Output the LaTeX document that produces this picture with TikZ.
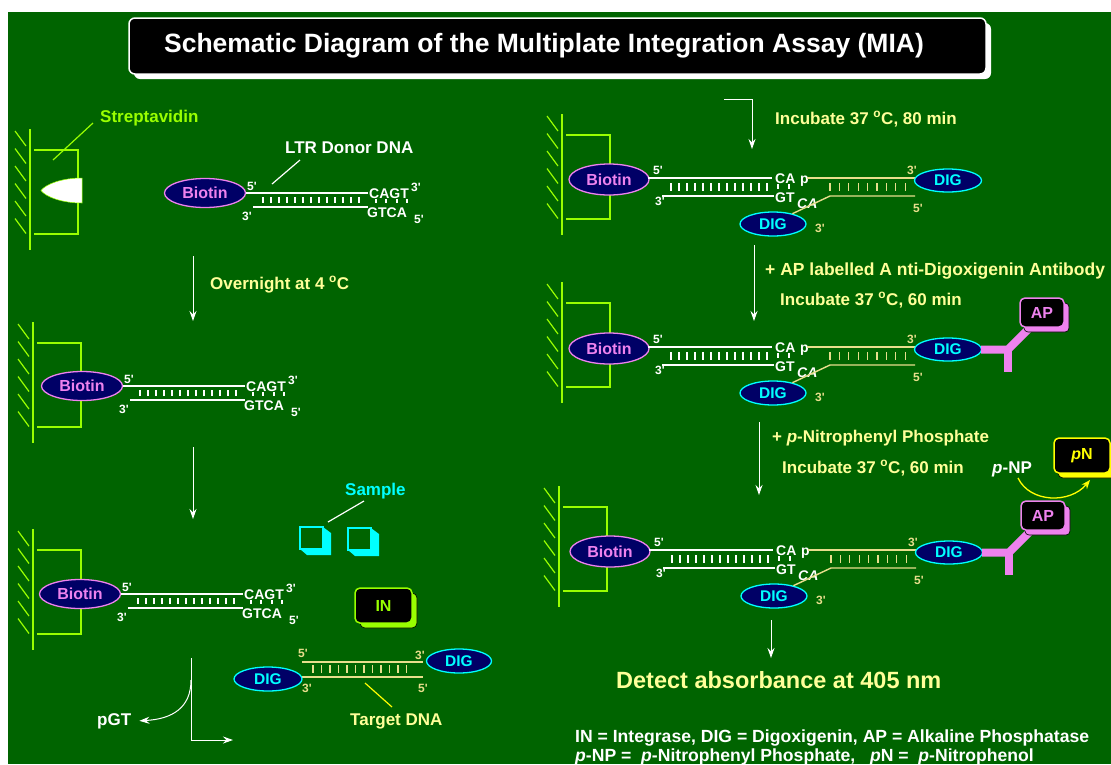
\documentclass[tikz,border=0pt]{standalone}
\usepackage{fontspec}
\setmainfont{Liberation Sans}
\newfontfamily\arial{Liberation Sans}
\usetikzlibrary{shapes.geometric,arrows.meta}

\definecolor{bg}{RGB}{0,100,0}
\definecolor{lime}{RGB}{153,255,0}
\definecolor{paleyellow}{RGB}{255,255,153}
\definecolor{dnatan}{RGB}{232,222,140}
\definecolor{violetpink}{RGB}{238,130,238}
\definecolor{navy}{RGB}{0,0,102}
\definecolor{cyanc}{RGB}{0,255,255}
\definecolor{yel}{RGB}{255,255,0}

\tikzset{
  lbl/.style={font=\arial\bfseries\fontsize{17}{20}\selectfont, inner sep=0pt, anchor=base west},
  dnaf/.style={font=\arial\bfseries\fontsize{14}{16}\selectfont, inner sep=0pt, text=white, anchor=base west},
  dnai/.style={font=\arial\bfseries\itshape\fontsize{14}{16}\selectfont, inner sep=0pt, text=white, anchor=base west},
  endf/.style={font=\arial\bfseries\fontsize{12}{14}\selectfont, inner sep=0pt, anchor=base west},
  bio/.style={ellipse, draw=violetpink, fill=navy, line width=1.3pt, minimum width=81pt,
    minimum height=29pt, inner sep=0pt, text=violetpink, font=\arial\bfseries\fontsize{16}{18}\selectfont},
  dig/.style={ellipse, draw=cyanc, fill=navy, line width=1.3pt, minimum width=66pt,
    minimum height=24pt, inner sep=0pt, text=cyanc, font=\arial\bfseries\fontsize{15.5}{18}\selectfont},
  flow/.style={white, line width=1pt, -{Stealth[length=10pt,width=7pt]}},
  strand/.style={white, line width=1.4pt},
  tanstrand/.style={dnatan, line width=1.4pt},
  rung/.style={white, line width=1.1pt},
  tanrung/.style={dnatan, line width=1.1pt},
  abline/.style={violetpink, line width=8pt},
  tagbox/.style={rectangle, rounded corners=5pt, line width=1.5pt, fill=black, inner sep=0pt,
    font=\arial\bfseries\fontsize{16}{18}\selectfont},
  % solid-phase well: plate wall, hatching and the well bracket
  wall/.pic={
    \draw[lime, line width=1.6pt] (0,-63) -- (0,58);
    \foreach \k in {0,...,5}
      \draw[lime, line width=1.2pt] (-15,{-61+17.5*\k}) -- (-4,{-46+17.5*\k});
    \draw[lime, line width=1.4pt] (4,-42) -- (48,-42) -- (48,42) -- (4,42);
  },
  % biotinylated LTR donor duplex with its CAGT end
  ldna/.pic={
    \node[bio] (-bio) at (0,0) {Biotin};
    \draw[strand] (41,0) -- (163,0);
    \draw[strand] (48,14) -- (163,14);
    \foreach \i in {0,...,12} \draw[rung] ({58+8*\i},4) -- ({58+8*\i},10);
    \foreach \xx in {171,181,192,202} \draw[rung] (\xx,6) -- (\xx,10);
    \node[endf, text=white] (-t5) at (42,-3) {5'};
    \node[endf, text=white] (-b3) at (37,27) {3'};
    \node[dnaf] (-top) at (164,5) {CAGT};
    \node[endf, text=white] (-e3) at (206,-2) {3'};
    \node[dnaf] (-bot) at (162,24) {GTCA};
    \node[endf, text=white] (-e5) at (209,30) {5'};
  },
  % donor joined to the DIG-labelled target after strand transfer
  rdna/.pic={
    \node[bio, minimum width=80pt, minimum height=31pt] (-bio) at (0,1.5) {Biotin};
    \draw[strand] (39,0) -- (163,0);
    \draw[strand] (53,18) -- (165,18);
    \foreach \i in {0,...,12} \draw[rung] ({62+8*\i},5) -- ({62+8*\i},13);
    \foreach \xx in {169,180} \draw[rung] (\xx,6) -- (\xx,11);
    \node[endf, text=white] (-t5) at (44,-4) {5'};
    \node[endf, text=white] (-b3) at (46,27) {3'};
    \node[dnaf] (-ca) at (166,5) {CA};
    \node[dnaf] (-p) at (191,5) {p};
    \node[dnaf] (-gt) at (166,24) {GT};
    \node[dnai] (-cat) at (188,30) {CA};
    \draw[tanstrand] (198,0) -- (306,0);
    \foreach \i in {0,...,8} \draw[tanrung] ({221+9.4*\i},5) -- ({221+9.4*\i},13);
    \node[dig, minimum width=67pt, minimum height=23pt] (-digR) at (339,2.5) {DIG};
    \node[dig] (-digL) at (164,46) {DIG};
    \draw[tanstrand] (-digL.28) -- (221,18) -- (306,18);
    \node[endf, text=dnatan] (-r3) at (298,-4) {3'};
    \node[endf, text=dnatan] (-r5) at (304,34) {5'};
    \node[endf, text=dnatan] (-l3) at (206,54) {3'};
  },
  % anti-DIG antibody carrying alkaline phosphatase
  abody/.pic={
    \draw[abline] (33,0) -- (60,0) -- (81,-21);
    \draw[abline] (60,0) -- (60,22);
    \fill[violetpink, rounded corners=4pt, draw=black, line width=0.6pt] (76,-46.5) rectangle (121,-17.5);
    \node[tagbox, draw=violetpink, text=violetpink, minimum width=44pt, minimum height=29pt] (-ap) at (94,-37) {AP};
  },
  % sample tube drawn as an extruded square
  cube/.pic={
    \fill[cyanc] (23,0) -- (31,6) -- (31,28) -- (7,28) -- (0,22) -- (23,22) -- cycle;
    \draw[cyanc, line width=1.2pt] (0,0) rectangle (23,22);
  }
}

\begin{document}
\begin{tikzpicture}[x=1pt, y=-1pt]
\fill[white] (0,0) rectangle (1111,764);
\fill[bg] (8,12) rectangle (1111,764);
\useasboundingbox (0,0) rectangle (1111,764);

% ---------- title ----------
\fill[white, rounded corners=6pt] (134,23) rectangle (991,79);
\node[draw=white, fill=black, line width=1.5pt, rounded corners=6pt, minimum width=857pt,
  minimum height=56pt, inner sep=0pt] (titlebox) at (557.5,46) {};
\node[text=white, inner sep=0pt, font=\arial\bfseries\fontsize{26.5}{30}\selectfont]
  (title) at (544,46) {Schematic Diagram of the Multiplate Integration Assay (MIA)};

% ---------- left column: step 1 ----------
\pic (w1) at (30,192) {wall};
\path[fill=white, draw=lime, line width=0.5pt] (82,178) .. controls (62,178) and (46,184) .. (41,190.5)
  .. controls (46,197) and (62,203) .. (82,203) -- cycle;
\node[lbl, text=lime] (strep) at (100,122) {Streptavidin};
\coordinate (strepA) at (53,160);
\coordinate (strepB) at (93,123);
\draw[lime, line width=1.2pt] (strepA) -- (strepB);

\pic (d1) at (205,193) {ldna};
\node[lbl, text=white] (ltr) at (285,153) {LTR Donor DNA};
\coordinate (ltrA) at (272,184);
\coordinate (ltrB) at (300,160);
\draw[white, line width=1.2pt] (ltrA) -- (ltrB);

\coordinate (l1s) at (193,256);
\coordinate (l1e) at (193,321);
\draw[flow] (l1s) -- (l1e);
\node[lbl, text=paleyellow] (over) at (210,289) {Overnight at 4 \textsuperscript{o}C};

% ---------- left column: step 2 ----------
\pic (w2) at (33,385) {wall};
\pic (d2) at (82,386) {ldna};

\coordinate (l2s) at (193,447);
\coordinate (l2e) at (193,519);
\draw[flow] (l2s) -- (l2e);

% ---------- left column: step 3 ----------
\pic (w3) at (33,592) {wall};
\pic (d3) at (80,594) {ldna};

\node[lbl, text=cyanc] (sample) at (345,495) {Sample};
\pic (s1) at (300,527) {cube};
\pic (s2) at (348,528) {cube};
\coordinate (sampA) at (328,522);
\coordinate (sampB) at (364,501);
\draw[white, line width=1.2pt] (sampA) -- (sampB);

\fill[lime, rounded corners=5pt, draw=black, line width=0.6pt] (360,593) rectangle (417,628);
\node[tagbox, draw=lime, text=lime, minimum width=57pt, minimum height=35pt] (in) at (383.5,605.5) {IN};

% target DNA with DIG labels
\draw[tanstrand] (302,662) -- (423,662);
\draw[tanstrand] (302,677) -- (423,677);
\foreach \i in {0,...,11} \draw[tanrung] ({313+8.5*\i},665) -- ({313+8.5*\i},673);
\node[dig, minimum width=65pt] (tdigR) at (459,661) {DIG};
\node[dig, minimum width=68pt] (tdigL) at (268,679) {DIG};
\node[endf, text=dnatan] (tt5) at (298,657) {5'};
\node[endf, text=dnatan] (tt3) at (415,659) {3'};
\node[endf, text=dnatan] (tb3) at (302,692) {3'};
\node[endf, text=dnatan] (tb5) at (418,692) {5'};
\node[lbl, text=paleyellow] (target) at (350,725) {Target DNA};
\coordinate (tgA) at (365,683);
\coordinate (tgB) at (392,707);
\draw[yel, line width=1.2pt] (tgA) -- (tgB);

% release of pGT and transfer
\node[lbl, text=white] (pgt) at (97,725) {pGT};
\coordinate (pv) at (191,658);
\coordinate (pc) at (191,740);
\coordinate (pr) at (233,740);
\coordinate (pb) at (191,680);
\draw[flow] (pv) -- (pc) -- (pr);
\draw[flow] (pb) .. controls (191,708) and (172,719) .. ([xshift=8pt]pgt.east);

% ---------- right column: step 4 ----------
\coordinate (r1a) at (724,99);
\coordinate (r1b) at (752,99);
\coordinate (r1c) at (752,149);
\draw[flow] (r1a) -- (r1b) -- (r1c);
\node[lbl, text=paleyellow] (inc1) at (775,124) {Incubate 37 \textsuperscript{o}C, 80 min};
\pic (w4) at (562,177) {wall};
\pic (r1) at (609,178) {rdna};

% ---------- right column: step 5 ----------
\coordinate (r2s) at (754,245);
\coordinate (r2e) at (754,321);
\draw[flow] (r2s) -- (r2e);
\node[lbl, text=paleyellow, font=\arial\bfseries\fontsize{17.5}{20}\selectfont] (ab) at (765,275) {+ AP labelled A nti-Digoxigenin Antibody};
\node[lbl, text=paleyellow] (inc2) at (780,305) {Incubate 37 \textsuperscript{o}C, 60 min};
\pic (w5) at (562,345) {wall};
\pic (r2) at (609,347) {rdna};
\pic (ab2) at (r2-digR) {abody};

% ---------- right column: step 6 ----------
\coordinate (r3s) at (759,422);
\coordinate (r3e) at (759,495);
\draw[flow] (r3s) -- (r3e);
\node[lbl, text=paleyellow] (pnpp) at (772,442) {+ \textit{p}-Nitrophenyl Phosphate};
\node[lbl, text=paleyellow] (inc3) at (782,473) {Incubate 37 \textsuperscript{o}C, 60 min};
\node[lbl, text=white] (pnp) at (992,473) {\textit{p}-NP};
\fill[yel, rounded corners=5pt, draw=black, line width=0.6pt] (1058,443) rectangle (1116,478);
\node[tagbox, draw=yel, text=yel, minimum width=56pt, minimum height=35pt] (pn) at (1082,455.5) {\textit{p}N};
\coordinate (cvA) at (1018,478);
\coordinate (cvB) at (1090,480);
\draw[yel, line width=1.3pt, -{Stealth[length=9pt,width=7pt]}] (cvA) .. controls (1030,503) and (1070,504) .. (cvB);
\pic (w6) at (559,549) {wall};
\pic (r3) at (610,550) {rdna};
\pic (ab3) at (r3-digR) {abody};

% ---------- readout ----------
\coordinate (r4s) at (771,620);
\coordinate (r4e) at (771,658);
\draw[flow] (r4s) -- (r4e);
\node[lbl, text=paleyellow, font=\arial\bfseries\fontsize{23.5}{27}\selectfont] (detect) at (616,688) {Detect absorbance at 405 nm};

\node[lbl, text=white, font=\arial\bfseries\fontsize{17.6}{20}\selectfont] (leg1) at (575,742)
  {IN = Integrase, DIG = Digoxigenin, AP = Alkaline Phosphatase};
\node[lbl, text=white, font=\arial\bfseries\fontsize{17.6}{20}\selectfont] (leg2) at (575,761)
  {\textit{p}-NP = \ \textit{p}-Nitrophenyl Phosphate, \ \ \textit{p}N = \ \textit{p}-Nitrophenol};
\end{tikzpicture}
\end{document}
